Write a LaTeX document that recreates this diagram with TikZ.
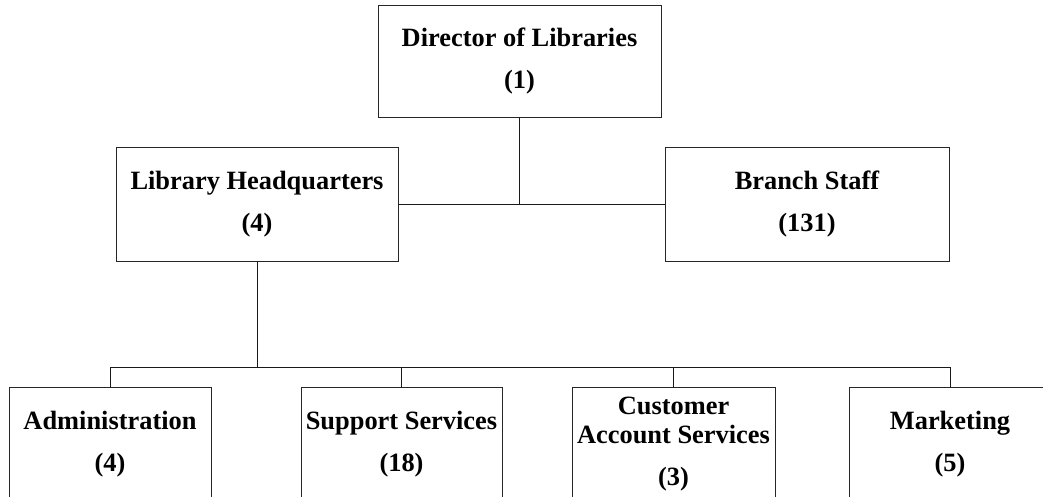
\documentclass[tikz,border=0pt]{standalone}
\usepackage{fontspec}
\setmainfont{Liberation Serif}
\begin{document}
\begin{tikzpicture}[x=1pt,y=1pt,
  orgbox/.style={draw=black!85,line width=0.9pt,rectangle,align=center,inner sep=0pt,
    font=\fontsize{26.4}{29}\selectfont\bfseries},
  conn/.style={draw=black!90,line width=0.9pt}]
\clip (0,0) rectangle (1043,-497);
\fill[white] (0,0) rectangle (1043,-497);
\node[orgbox,minimum width=283,minimum height=112] (dir) at (519.5,-61) {Director of Libraries\\[13pt](1)};
\node[orgbox,minimum width=282,minimum height=114] (hq) at (257,-204) {Library Headquarters\\[13pt](4)};
\node[orgbox,minimum width=284,minimum height=114] (branch) at (807,-204) {Branch Staff\\[13pt](131)};
\node[orgbox,minimum width=202,minimum height=114] (admin) at (110,-444) {Administration\\[13pt](4)};
\node[orgbox,minimum width=201,minimum height=114] (support) at (401.5,-444) {Support Services\\[13pt](18)};
\node[orgbox,minimum width=203,minimum height=114] (cust) at (673.5,-444) {Customer\\Account Services\\[13pt](3)};
\node[orgbox,minimum width=202,minimum height=114] (mkt) at (950,-444) {Marketing\\[13pt](5)};
\coordinate (bus) at (0,-367);
\draw[conn] (hq.east) -- (branch.west);
\draw[conn] (dir.south) -- (dir.south |- hq.east);
\draw[conn] (hq.south) -- (hq.south |- bus);
\draw[conn] (admin.north) -- (admin.north |- bus) -- (mkt.north |- bus) -- (mkt.north);
\draw[conn] (support.north) -- (support.north |- bus);
\draw[conn] (cust.north) -- (cust.north |- bus);
\end{tikzpicture}
\end{document}
